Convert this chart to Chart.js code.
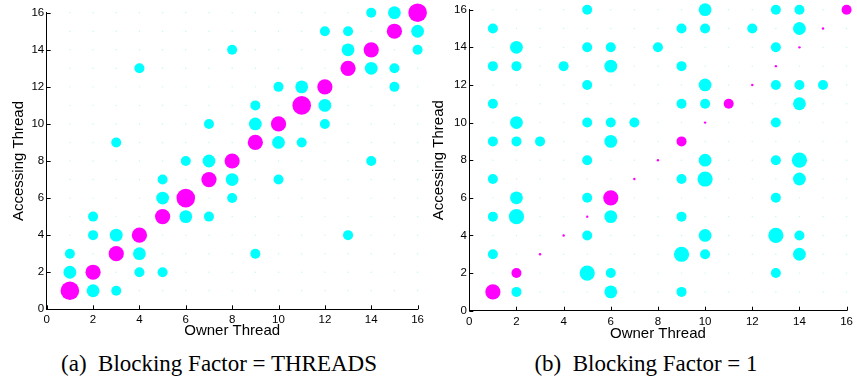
<!DOCTYPE html>
<html lang="en">
<head>
    <meta charset="UTF-8">
    <title>Owner vs Accessing Thread</title>
    <script src="https://cdn.jsdelivr.net/npm/chart.js"></script>
    <style>
        body {
            margin: 0;
            background: white;
            width: 857px;
            height: 381px;
            position: relative;
            overflow: hidden;
        }
        canvas {
            position: absolute;
            top: 0;
        }
        #chartA { left: 0; }
        #chartB { left: 428px; }
        .caption {
            position: absolute;
            font-family: "Liberation Serif", "Times New Roman", serif;
            font-size: 23px;
            line-height: 22px;
            white-space: pre;
            transform: translateX(-50%);
            color: #000;
        }
    </style>
</head>
<body>
    <canvas id="chartA" width="428" height="345"></canvas>
    <canvas id="chartB" width="429" height="345"></canvas>
    <div class="caption" style="left:219px; top:353px;">(a)  Blocking Factor = THREADS</div>
    <div class="caption" style="left:646px; top:353px;">(b)  Blocking Factor = 1</div>

    <script>
        // thread ids and axis ticks
        const threads = [1, 2, 3, 4, 5, 6, 7, 8, 9, 10, 11, 12, 13, 14, 15, 16];
        const axisTicks = [0, 2, 4, 6, 8, 10, 12, 14, 16];

        // [owner thread, accessing thread, access weight 0..4]
        // (a) blocking factor = THREADS
        const localA = [
            [1, 1, 4], [2, 2, 3], [3, 3, 3], [4, 4, 3], [5, 5, 3], [6, 6, 4], [7, 7, 3], [8, 8, 3],
            [9, 9, 3], [10, 10, 3], [11, 11, 4], [12, 12, 3], [13, 13, 3], [14, 14, 3], [15, 15, 3], [16, 16, 4]
        ];
        const remoteA = [
            [1, 2, 2], [1, 3, 1], [2, 1, 2], [2, 4, 1], [2, 5, 1], [3, 1, 1], [3, 4, 2], [3, 9, 1],
            [4, 2, 1], [4, 3, 2], [4, 13, 1], [5, 2, 1], [5, 6, 2], [5, 7, 1], [6, 5, 2], [6, 8, 1],
            [7, 5, 1], [7, 8, 2], [7, 10, 1], [8, 6, 1], [8, 7, 2], [8, 14, 1], [9, 3, 1], [9, 10, 2],
            [9, 11, 1], [10, 7, 1], [10, 9, 2], [10, 12, 1], [11, 9, 1], [11, 12, 2], [12, 10, 1], [12, 11, 2],
            [12, 15, 1], [13, 4, 1], [13, 14, 2], [13, 15, 1], [14, 8, 1], [14, 13, 2], [14, 16, 1], [15, 12, 1],
            [15, 13, 1], [15, 16, 2], [16, 14, 1], [16, 15, 2]
        ];

        // (b) blocking factor = 1
        const localB = [
            [1, 1, 3], [2, 2, 1], [3, 3, 0], [4, 4, 0], [5, 5, 0], [6, 6, 3], [7, 7, 0], [8, 8, 0],
            [9, 9, 1], [10, 10, 0], [11, 11, 1], [12, 12, 0], [13, 13, 0], [14, 14, 0], [15, 15, 0], [16, 16, 1]
        ];
        const remoteB = [
            [1, 3, 1], [1, 5, 1], [1, 7, 1], [1, 9, 1], [1, 11, 1], [1, 13, 1], [1, 15, 1],
            [2, 1, 1], [2, 5, 3], [2, 6, 2], [2, 9, 1], [2, 10, 2], [2, 13, 1], [2, 14, 2],
            [3, 9, 1], [4, 13, 1],
            [5, 2, 3], [5, 4, 1], [5, 6, 1], [5, 8, 1], [5, 10, 1], [5, 12, 1], [5, 14, 1], [5, 16, 1],
            [6, 1, 2], [6, 2, 1], [6, 5, 2], [6, 9, 2], [6, 10, 1], [6, 13, 2], [6, 14, 1],
            [7, 10, 1], [8, 14, 1],
            [9, 1, 1], [9, 3, 3], [9, 5, 1], [9, 7, 1], [9, 11, 1], [9, 13, 1], [9, 15, 1],
            [10, 3, 1], [10, 4, 2], [10, 7, 3], [10, 8, 2], [10, 11, 1], [10, 12, 2], [10, 15, 1], [10, 16, 2],
            [12, 15, 1],
            [13, 2, 1], [13, 4, 3], [13, 6, 1], [13, 8, 1], [13, 10, 1], [13, 12, 1], [13, 14, 1], [13, 16, 1],
            [14, 3, 2], [14, 4, 1], [14, 7, 2], [14, 8, 3], [14, 11, 2], [14, 12, 1], [14, 15, 2], [14, 16, 1],
            [15, 12, 1]
        ];

        // marker radius for each weight
        const radius = [1.2, 5, 6.4, 7.6, 9.3];

        // faint marker at every (owner, accessor) pair
        const gridPairs = [];
        threads.forEach(o => threads.forEach(a => gridPairs.push({ x: o, y: a, r: 0.7 })));

        const toBubbles = list => list.map(([x, y, w]) => ({ x: x, y: y, r: radius[w] }));

        const inwardTicks = {
            id: 'inwardTicks',
            beforeDatasetsDraw(chart) {
                const { ctx, chartArea } = chart;
                const xs = chart.scales.x, ys = chart.scales.y;
                ctx.save();
                ctx.strokeStyle = '#000';
                ctx.lineWidth = 1;
                ctx.beginPath();
                axisTicks.forEach(v => {
                    const px = Math.round(xs.getPixelForValue(v)) + 0.5;
                    ctx.moveTo(px, chartArea.bottom);
                    ctx.lineTo(px, chartArea.bottom - 4);
                    const py = Math.round(ys.getPixelForValue(v)) + 0.5;
                    ctx.moveTo(chartArea.left, py);
                    ctx.lineTo(chartArea.left + 4, py);
                });
                ctx.stroke();
                ctx.restore();
            }
        };

        function createChart(canvasId, local, remote, box) {
            const ctx = document.getElementById(canvasId).getContext('2d');
            const tickFont = { family: '"Liberation Sans", Arial, sans-serif', size: 11.5 };
            const titleFont = { family: '"Liberation Sans", Arial, sans-serif', size: 15 };
            return new Chart(ctx, {
                type: 'bubble',
                data: {
                    datasets: [
                        { label: 'local', data: toBubbles(local), backgroundColor: '#ff00ff', borderWidth: 0, clip: false },
                        { label: 'remote', data: toBubbles(remote), backgroundColor: '#00ffff', borderWidth: 0, clip: false },
                        { label: 'none', data: gridPairs, backgroundColor: '#c6f4f4', borderWidth: 0, clip: false }
                    ]
                },
                options: {
                    responsive: false,
                    animation: false,
                    events: [],
                    layout: { padding: { top: box.top, right: box.right, left: 0, bottom: 0 } },
                    plugins: { legend: { display: false }, tooltip: { enabled: false } },
                    scales: {
                        x: {
                            type: 'linear', min: 0, max: 16,
                            grid: { display: false, drawTicks: false },
                            border: { display: true, color: '#000', width: 1 },
                            ticks: { stepSize: 2, color: '#000', font: tickFont, padding: 4, maxRotation: 0 },
                            title: { display: true, text: 'Owner Thread', color: '#000', font: titleFont, padding: { top: 0, bottom: box.xTitlePad } },
                            afterFit: s => { s.height = box.xHeight; }
                        },
                        y: {
                            type: 'linear', min: 0, max: 16,
                            grid: { display: false, drawTicks: false },
                            border: { display: true, color: '#000', width: 1 },
                            ticks: { stepSize: 2, color: '#000', font: tickFont, padding: 2.5 },
                            title: { display: true, text: 'Accessing Thread', color: '#000', font: titleFont, padding: { top: box.yTitlePad, bottom: 0 } },
                            afterFit: s => { s.width = box.yWidth; }
                        }
                    }
                },
                plugins: [inwardTicks]
            });
        }

        createChart('chartA', localA, remoteA, { top: 12.7, right: 5.3, xHeight: 35.7, yWidth: 46.7, xTitlePad: 5, yTitlePad: 9.5 });
        createChart('chartB', localB, remoteB, { top: 9.7, right: 7.7, xHeight: 34.3, yWidth: 41.3, xTitlePad: 2.5, yTitlePad: 2 });
    </script>
</body>
</html>
